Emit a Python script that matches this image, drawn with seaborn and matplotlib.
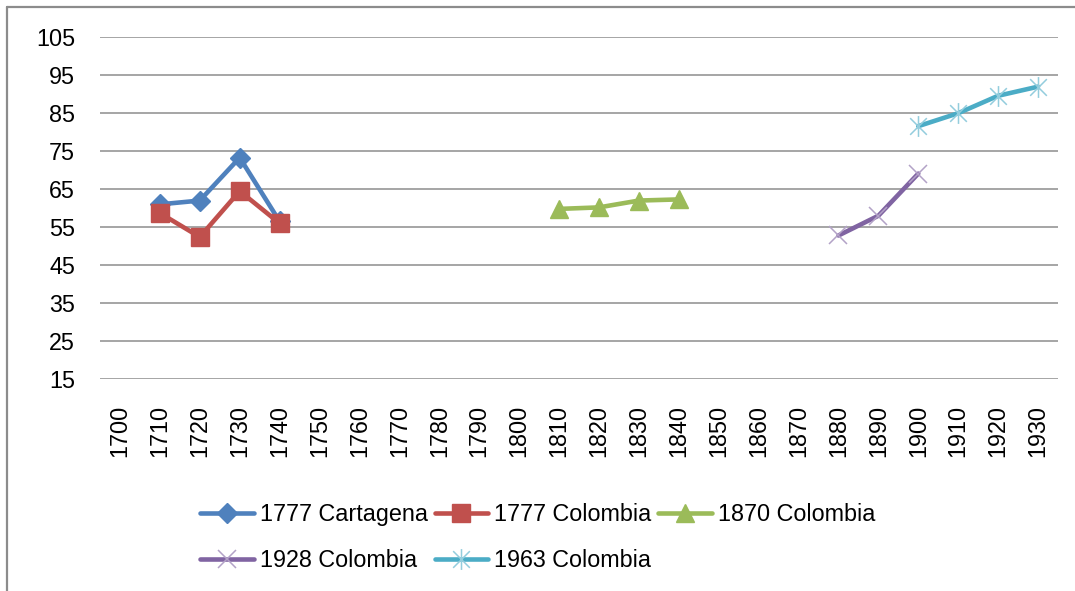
import matplotlib
matplotlib.use("Agg")
import matplotlib.pyplot as plt
from matplotlib.lines import Line2D
from matplotlib.path import Path
import seaborn as sns

# Category axis (decades) and value axis ticks
years = list(range(1700, 1931, 10))
yticks = list(range(15, 106, 10))

# Series values by decade
cartagena_1777_years = [1710, 1720, 1730, 1740]
cartagena_1777 = [61.0, 62.0, 73.3, 56.5]

colombia_1777_years = [1710, 1720, 1730, 1740]
colombia_1777 = [58.7, 52.4, 64.5, 56.0]

colombia_1870_years = [1810, 1820, 1830, 1840]
colombia_1870 = [59.8, 60.2, 62.0, 62.3]

colombia_1928_years = [1880, 1890, 1900]
colombia_1928 = [52.8, 58.0, 69.1]

colombia_1963_years = [1900, 1910, 1920, 1930]
colombia_1963 = [81.6, 85.0, 89.6, 92.0]

sns.set_style("white")
plt.rcParams["font.family"] = ["Liberation Sans", "DejaVu Sans"]
plt.rcParams["text.color"] = "black"

W, H = 1075, 591
fig = plt.figure(figsize=(W / 100, H / 100), dpi=100)
fig.patch.set_facecolor("white")

# plot area in pixel coordinates
left, right, top, bottom = 100, 1058, 37.3, 379
ax = fig.add_axes([left / W, 1 - bottom / H, (right - left) / W, (bottom - top) / H])

# asterisk-like marker: an "x" with a vertical stroke
star = Path(
    [(-1, -1), (1, 1), (-1, 1), (1, -1), (0, -1.25), (0, 1.25)],
    [Path.MOVETO, Path.LINETO, Path.MOVETO, Path.LINETO, Path.MOVETO, Path.LINETO],
)

lw = 3.3
series = [
    ("1777 Cartagena", cartagena_1777_years, cartagena_1777, "#4F81BD",
     dict(marker="D", markersize=10.5, markerfacecolor="#4F81BD", markeredgecolor="#4F81BD", markeredgewidth=1)),
    ("1777 Colombia", colombia_1777_years, colombia_1777, "#C0504D",
     dict(marker="s", markersize=13, markerfacecolor="#C0504D", markeredgecolor="#C0504D", markeredgewidth=1)),
    ("1870 Colombia", colombia_1870_years, colombia_1870, "#9BBB59",
     dict(marker="^", markersize=13, markerfacecolor="#9BBB59", markeredgecolor="#9BBB59", markeredgewidth=1)),
    ("1928 Colombia", colombia_1928_years, colombia_1928, "#8064A2",
     dict(marker="x", markersize=13, markeredgecolor="#B3A2C7", markeredgewidth=1.1)),
    ("1963 Colombia", colombia_1963_years, colombia_1963, "#4BACC6",
     dict(marker=star, markersize=15, markerfacecolor="none", markeredgecolor="#93CDDD", markeredgewidth=1.1)),
]

for i, (name, xs, ys, color, mk) in enumerate(series):
    sns.lineplot(x=xs, y=ys, ax=ax, color=color, linewidth=lw, label=name,
                 solid_capstyle="round", zorder=3 + i, **mk)

ax.set_xlim(1695, 1935)
ax.set_ylim(15, 105)
ax.set_xticks(years)
ax.set_xticklabels([str(y) for y in years], rotation=90)
ax.set_yticks(yticks)
ax.set_xlabel("")
ax.set_ylabel("")

ax.yaxis.grid(True, color="#969696", linewidth=1.2)
ax.xaxis.grid(False)
ax.set_axisbelow(True)
for s in ax.spines.values():
    s.set_visible(False)

fs = 16.8
ax.tick_params(axis="y", length=0, pad=18, labelsize=fs, labelcolor="black")
ax.tick_params(axis="x", length=0, pad=18.5, labelsize=fs, labelcolor="black")

# legend laid out row by row (3 columns)
handles, labels = ax.get_legend_handles_labels()
order = [0, 3, 1, 4, 2]
leg = ax.legend([handles[i] for i in order], [labels[i] for i in order],
                ncol=3, loc="upper left",
                bbox_to_anchor=(200 / W, 1 - 503 / H), bbox_transform=fig.transFigure,
                frameon=False, fontsize=fs, handlelength=2.3, handletextpad=0.25,
                columnspacing=0.3, labelspacing=1.0, borderpad=0, borderaxespad=0)
for t in leg.get_texts():
    t.set_color("black")

# chart frame (left and top edges)
fc = "#8C8C8C"
x0 = 6.5 / W
y0 = 1 - 6.5 / H
fig.add_artist(Line2D([x0, x0], [0, y0], transform=fig.transFigure, color=fc, lw=1.6))
fig.add_artist(Line2D([x0, 1], [y0, y0], transform=fig.transFigure, color=fc, lw=1.6))

fig.savefig("out.png", dpi=100, facecolor="white")
